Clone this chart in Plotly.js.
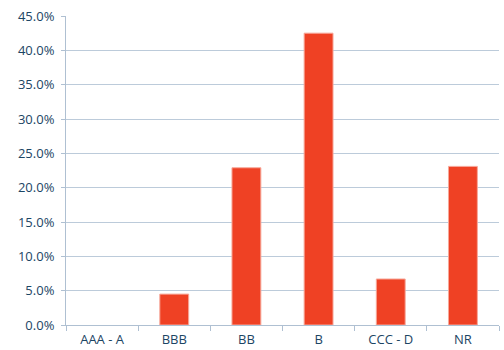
<!DOCTYPE html>
<html>
<head>
<meta charset="utf-8">
<script src="https://cdn.plot.ly/plotly-3.0.1.min.js"></script>
<style>html,body{margin:0;padding:0;background:#fff;}#chart{width:504px;height:350px;}</style>
</head>
<body>
<div id="chart"></div>
<script>
const categories = ["AAA - A", "BBB", "BB", "B", "CCC - D", "NR"];
const shares = [0.0, 4.5, 22.9, 42.5, 6.7, 23.1];
const yTickValues = [0, 5, 10, 15, 20, 25, 30, 35, 40, 45];
const yTickLabels = ["0.0%", "5.0%", "10.0%", "15.0%", "20.0%", "25.0%", "30.0%", "35.0%", "40.0%", "45.0%"];

const trace = {
  type: "bar",
  x: categories,
  y: shares,
  marker: {color: "#EF4124", line: {color: "#F7A89A", width: shares.map(v => v > 0 ? 1 : 0)}},
  hoverinfo: "x+y"
};

const layout = {
  width: 504, height: 350,
  margin: {l: 66, r: 5, t: 16, b: 25},
  paper_bgcolor: "#ffffff", plot_bgcolor: "#ffffff",
  showlegend: false,
  bargap: 0.6,
  font: {family: "Open Sans, sans-serif", size: 13, color: "#1C4564"},
  xaxis: {
    type: "category",
    tickson: "boundaries",
    ticks: "outside", ticklen: 5, tickcolor: "#AFC0D2", tickwidth: 1,
    showline: true, linecolor: "#AFC0D2", linewidth: 1,
    showgrid: false, zeroline: false,
    ticklabelstandoff: 2,
    tickfont: {size: 13, color: "#1C4564"}
  },
  yaxis: {
    range: [0, 45],
    tickvals: yTickValues, ticktext: yTickLabels,
    ticks: "outside", ticklen: 4, tickcolor: "#AFC0D2", tickwidth: 1,
    showline: true, linecolor: "#AFC0D2", linewidth: 1,
    showgrid: true, gridcolor: "#BCCBDA", gridwidth: 1,
    zeroline: false,
    ticklabelstandoff: 4,
    tickfont: {size: 13, color: "#1C4564"}
  }
};

Plotly.newPlot("chart", [trace], layout, {displayModeBar: false, staticPlot: true});
</script>
</body>
</html>
